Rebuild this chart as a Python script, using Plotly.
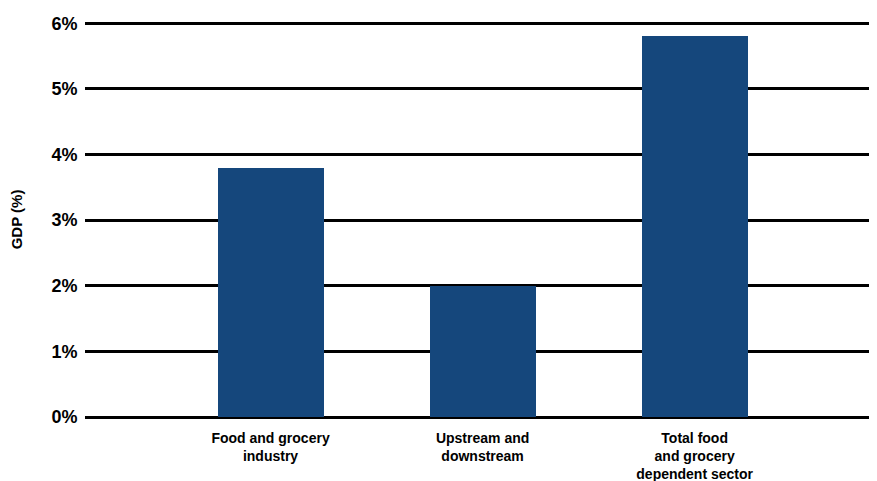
import plotly.graph_objects as go

categories = ["Food and grocery<br>industry", "Upstream and<br>downstream", "Total food<br>and grocery<br>dependent sector"]
gdp_share = [3.8, 2.0, 5.8]
y_ticks = [0, 1, 2, 3, 4, 5, 6]
y_tick_labels = ["0%", "1%", "2%", "3%", "4%", "5%", "6%"]

font = "Liberation Sans, Arial, sans-serif"

fig = go.Figure(go.Bar(
    x=categories, y=gdp_share, width=0.5,
    marker=dict(color="#15477c", line=dict(width=0)),
))

fig.update_layout(
    width=869, height=473,
    margin=dict(l=77, r=0, t=14, b=64),
    plot_bgcolor="white", paper_bgcolor="white",
    showlegend=False,
    font=dict(family=font, color="black", size=13),
    xaxis=dict(
        range=[-0.875, 2.86], showgrid=False, zeroline=False, showline=False,
        ticks="outside", ticklen=8, tickcolor="rgba(0,0,0,0)",
        tickfont=dict(family=font, size=14, color="black", weight="bold"),
        automargin=False,
    ),
    yaxis=dict(
        range=[0, 6.02], tickvals=y_ticks, ticktext=y_tick_labels,
        showgrid=True, gridcolor="black", gridwidth=3,
        zeroline=True, zerolinecolor="black", zerolinewidth=3,
        showline=False, ticks="outside", ticklen=3, tickcolor="rgba(0,0,0,0)",
        tickfont=dict(family=font, size=18, color="black", weight="bold"),
        automargin=False,
        title=dict(text="GDP (%)", standoff=27, font=dict(family=font, size=15, color="black", weight="bold")),
    ),
    bargap=0,
)

fig.write_html("out.html")
